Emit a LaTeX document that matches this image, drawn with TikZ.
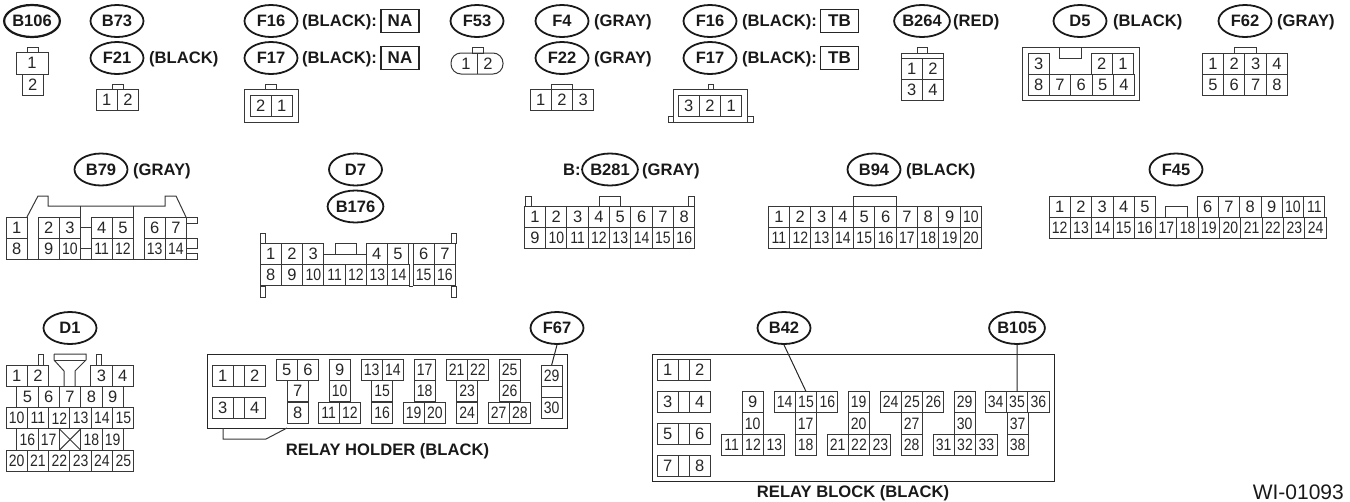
\documentclass[tikz,border=0pt]{standalone}
\usepackage{fontspec}
\setmainfont{Liberation Sans}
\newfontfamily\pinnarrow[FakeStretch=0.85]{Liberation Sans}
\usetikzlibrary{shapes.geometric}
\tikzset{
    pinline/.style={line width=1pt,black!78},
    pinbox/.style={draw=black!78,line width=1pt,minimum width=21.33pt,minimum height=21.33pt,inner sep=0pt,outer sep=0pt,text=black!85,font=\fontsize{16.5}{16.5}\selectfont},
    pinlabel/.style={pinbox,draw=none},
    conn/.style={ellipse,draw=black!90,line width=1.8pt,minimum width=53pt,minimum height=32pt,inner sep=0pt,text=black!90,font=\bfseries\fontsize{16.5}{16.5}\selectfont},
    colour/.style={anchor=base west,inner sep=0pt,text=black!90,font=\bfseries\fontsize{16.6}{16.6}\selectfont},
    harness/.style={draw=black!85,line width=1.8pt,minimum width=38pt,minimum height=23pt,inner sep=0pt,text=black!90,font=\bfseries\fontsize{17}{17}\selectfont},
    caption/.style={inner sep=0pt,text=black!90,font=\bfseries\fontsize{16.6}{16.6}\selectfont},
    leader/.style={line width=1pt,black!85},
}
% one row of touching pins, (#2,#3) is its top left corner
\newcommand{\pinrow}[4]{
    \foreach \lab [count=\k from 0] in {#4} {
        \node[pinbox,anchor=north west] (#1\lab) at ({#2+\k*21.33},#3) {\ifnum\lab>9 \pinnarrow\fi\lab};
    }
}
% grey links across the middle of a relay
\newcommand{\relaylink}[2]{
    \draw[pinline] (#1.north east) -- (#2.north west);
    \draw[pinline] (#1.south east) -- (#2.south west);
}
\begin{document}
\begin{tikzpicture}[x=1pt,y=-1pt]
    \useasboundingbox (0,0) rectangle (1350,501);

    % top row
    \node[conn,line width=2.2pt] (b106) at (32,21) {B106};
    \draw[pinline] (27,47) rectangle (38,52);
    \node[pinbox,anchor=north west,minimum width=32pt,minimum height=22pt] (b106a) at (16,52) {1};
    \node[pinbox,anchor=north west] (b106b) at (22,74) {2};

    \node[conn] (b73) at (117,21) {B73};
    \node[conn] (f21) at (117,58) {F21};
    \node[colour] (f21c) at (149,63.5) {(BLACK)};
    \draw[pinline] (112,84) rectangle (123,89);
    \pinrow{f21p}{96}{89}{1,2}

    \node[conn] (f16n) at (271,21) {F16};
    \node[conn] (f17n) at (271,58) {F17};
    \node[colour] (f16nc) at (302,26.5) {(BLACK):};
    \node[colour] (f17nc) at (302,63.5) {(BLACK):};
    \node[harness] (na1) at (400,21) {NA};
    \node[harness] (na2) at (400,58) {NA};
    \draw[pinline] (244,89) rectangle (298,122);
    \draw[pinline] (265,84) rectangle (276,89);
    \pinrow{f17p}{250}{95}{2}
    \pinrow{f17q}{271}{95}{1}

    \node[conn] (f53) at (477,21) {F53};
    \draw[pinline] (472,47) rectangle (483,53);
    \draw[pinline,rounded corners=10pt] (451,53) rectangle (503,74);
    \draw[pinline] (477,53) -- (477,74);
    \node[pinlabel] (f53a) at (466,63.5) {1};
    \node[pinlabel] (f53b) at (488,63.5) {2};

    \node[conn] (f4) at (562,21) {F4};
    \node[conn] (f22) at (562,58) {F22};
    \node[colour] (f4c) at (594,26.5) {(GRAY)};
    \node[colour] (f22c) at (594,63.5) {(GRAY)};
    \draw[pinline] (551,84) rectangle (572,89);
    \pinrow{f22p}{530}{89}{1,2,3}

    \node[conn] (f16t) at (710,21) {F16};
    \node[conn] (f17t) at (710,58) {F17};
    \node[colour] (f16tc) at (742,26.5) {(BLACK):};
    \node[colour] (f17tc) at (742,63.5) {(BLACK):};
    \node[harness] (tb1) at (839.5,21) {TB};
    \node[harness] (tb2) at (839.5,58) {TB};
    \draw[pinline] (673,89) rectangle (747,122);
    \draw[pinline] (708,84) rectangle (713,89);
    \draw[pinline] (668,116) rectangle (673,122);
    \draw[pinline] (747,116) rectangle (753,122);
    \pinrow{f17r}{678}{95}{3,2,1}

    \node[conn] (b264) at (922,21) {B264};
    \node[colour] (b264c) at (953,26.5) {(RED)};
    \draw[pinline] (917,47) rectangle (927,53);
    \draw[pinline] (901,53) rectangle (943,58);
    \pinrow{b264p}{901}{58}{1,2}
    \pinrow{b264p}{901}{79}{3,4}

    \node[conn] (d5) at (1080,21) {D5};
    \node[colour] (d5c) at (1113,26.5) {(BLACK)};
    \draw[pinline] (1022,47) rectangle (1139,100);
    \draw[pinline] (1059,47) rectangle (1081,58);
    \pinrow{d5p}{1028}{53}{3}
    \pinrow{d5p}{1091}{53}{2,1}
    \pinrow{d5p}{1028}{74}{8,7,6,5,4}

    \node[conn] (f62) at (1245,21) {F62};
    \node[colour] (f62c) at (1277,26.5) {(GRAY)};
    \draw[pinline] (1234,47) rectangle (1256,53);
    \pinrow{f62p}{1202.3}{53}{1,2,3,4}
    \pinrow{f62p}{1202.3}{74}{5,6,7,8}

    % middle row
    \node[conn] (b79) at (101,169.5) {B79};
    \node[colour] (b79c) at (133,175.5) {(GRAY)};
    \draw[pinline] (27,217) -- (38,196) -- (48,196) -- (48,206) -- (165,206) -- (165,196) -- (176,196) -- (186,217);
    \draw[pinline] (80,206) -- (80,217);
    \draw[pinline] (133,206) -- (133,217);
    \draw[pinline] (80,227) -- (91,227);
    \draw[pinline] (80,248) -- (91,248);
    \draw[pinline] (27,259) -- (186,259);
    \draw[pinline] (186,217) -- (197,217) -- (197,223) -- (186,223);
    \draw[pinline] (186,238) -- (197,238) -- (197,248) -- (186,248);
    \draw[pinline] (186,253) -- (197,253) -- (197,259) -- (186,259);
    \pinrow{b79p}{6}{217}{1}
    \pinrow{b79p}{38}{217}{2,3}
    \pinrow{b79p}{91}{217}{4,5}
    \pinrow{b79p}{144}{217}{6,7}
    \pinrow{b79p}{6}{238}{8}
    \pinrow{b79p}{38}{238}{9,10}
    \pinrow{b79p}{91}{238}{11,12}
    \pinrow{b79p}{144}{238}{13,14}

    \node[conn] (d7) at (355.5,169.5) {D7};
    \node[conn] (b176) at (355.5,206.5) {B176};
    \draw[pinline] (324,254) -- (366,254);
    \draw[pinline] (335,243) rectangle (356,254);
    \foreach \tabx in {260,451} {
        \draw[pinline] (\tabx,233) rectangle (\tabx+5,243);
        \draw[pinline] (\tabx,286) rectangle (\tabx+5,297);
    }
    \draw[pinline] (409,243) -- (413,243);
    \draw[pinline] (409,286) -- (413,286);
    \pinrow{b176p}{260}{243}{1,2,3}
    \pinrow{b176p}{366}{243}{4,5}
    \pinrow{b176p}{413}{243}{6,7}
    \pinrow{b176p}{260}{264.5}{8,9,10,11,12,13,14}
    \pinrow{b176p}{413}{264.5}{15,16}

    \node[caption] (b281b) at (572,169.5) {B:};
    \node[conn] (b281) at (610,169.5) {B281};
    \node[colour] (b281c) at (642,175.5) {(GRAY)};
    \draw[pinline] (599,196) rectangle (620,206);
    \draw[pinline] (525,196) rectangle (531,206);
    \draw[pinline] (688,196) rectangle (694,206);
    \pinrow{b281p}{524.3}{206}{1,2,3,4,5,6,7,8}
    \pinrow{b281p}{524.3}{227.3}{9,10,11,12,13,14,15,16}

    \node[conn] (b94) at (874,169.5) {B94};
    \node[colour] (b94c) at (906,175.5) {(BLACK)};
    \draw[pinline] (853,196) rectangle (896,206);
    \pinrow{b94p}{768.3}{206}{1,2,3,4,5,6,7,8,9,10}
    \pinrow{b94p}{768.3}{227.3}{11,12,13,14,15,16,17,18,19,20}

    \node[conn] (f45) at (1176,169.5) {F45};
    \draw[pinline] (1165,206) rectangle (1187,217);
    \pinrow{f45p}{1049}{196}{1,2,3,4,5}
    \pinrow{f45p}{1197}{196}{6,7,8,9,10,11}
    \pinrow{f45p}{1049}{217.3}{12,13,14,15,16,17,18,19,20,21,22,23,24}

    % bottom row, D1
    \node[conn] (d1) at (70,328) {D1};
    \draw[pinline] (38,354) rectangle (43,365);
    \draw[pinline] (96,354) rectangle (101,365);
    \draw[pinline] (54,354) -- (86,354) -- (86,360) -- (75,371) -- (75,386);
    \draw[pinline] (64,386) -- (64,371) -- (54,360) -- (54,354);
    \draw[pinline] (54,360) -- (86,360);
    \pinrow{d1p}{6}{365}{1,2}
    \pinrow{d1p}{90.7}{365}{3,4}
    \pinrow{d1p}{16.7}{386.3}{5,6,7,8,9}
    \pinrow{d1p}{6}{407.6}{10,11,12,13,14,15}
    \pinrow{d1p}{16.7}{428.9}{16,17}
    \node[pinbox,anchor=north west] (d1x) at (59.4,428.9) {};
    \draw[pinline] (d1x.north west) -- (d1x.south east);
    \draw[pinline] (d1x.north east) -- (d1x.south west);
    \pinrow{d1p}{80.7}{428.9}{18,19}
    \pinrow{d1p}{6}{450.2}{20,21,22,23,24,25}

    % relay holder
    \draw[pinline,black!85] (207,354) rectangle (567,428);
    \draw[pinline] (223,428) -- (223,439) -- (266,439) -- (287,428);
    \pinrow{rh}{212}{365}{1}
    \pinrow{rh}{244}{365}{2}
    \pinrow{rh}{212}{397}{3}
    \pinrow{rh}{244}{397}{4}
    \relaylink{rh1}{rh2}
    \relaylink{rh3}{rh4}
    \pinrow{rh}{276}{359}{5,6}
    \pinrow{rh}{287}{380.5}{7}
    \pinrow{rh}{287}{402}{8}
    \pinrow{rh}{329}{359}{9}
    \pinrow{rh}{329}{380.5}{10}
    \pinrow{rh}{318}{402}{11,12}
    \pinrow{rh}{361}{359}{13,14}
    \pinrow{rh}{371.5}{380.5}{15}
    \pinrow{rh}{371.5}{402}{16}
    \pinrow{rh}{414}{359}{17}
    \pinrow{rh}{414}{380.5}{18}
    \pinrow{rh}{403}{402}{19,20}
    \pinrow{rh}{446}{359}{21,22}
    \pinrow{rh}{456.5}{380.5}{23}
    \pinrow{rh}{456.5}{402}{24}
    \pinrow{rh}{499}{359}{25}
    \pinrow{rh}{499}{380.5}{26}
    \pinrow{rh}{488}{402}{27,28}
    \pinrow{rh}{541}{365}{29}
    \pinrow{rh}{541}{397}{30}
    \draw[pinline] (rh29.south west) -- (rh30.north west);
    \draw[pinline] (rh29.south east) -- (rh30.north east);
    \node[conn] (f67) at (557,328) {F67};
    \draw[leader] (f67.south) -- (rh29.north);
    \node[caption] (rhcap) at (387.5,451.2) {RELAY HOLDER (BLACK)};

    % relay block
    \draw[pinline,black!85] (652,354) rectangle (1054,481);
    \foreach \k/\a/\b/\rowy in {1/1/2/359,2/3/4/391.5,3/5/6/423,4/7/8/455} {
        \pinrow{rb}{657}{\rowy}{\a}
        \pinrow{rb}{689}{\rowy}{\b}
        \relaylink{rb\a}{rb\b}
    }
    \pinrow{rb}{742}{391.5}{9}
    \pinrow{rb}{742}{412.8}{10}
    \pinrow{rb}{721}{434}{11,12,13}
    \pinrow{rb}{774}{391.5}{14,15,16}
    \pinrow{rb}{795}{412.8}{17}
    \pinrow{rb}{795}{434}{18}
    \pinrow{rb}{848}{391.5}{19}
    \pinrow{rb}{848}{412.8}{20}
    \pinrow{rb}{827}{434}{21,22,23}
    \pinrow{rb}{880}{391.5}{24,25,26}
    \pinrow{rb}{901}{412.8}{27}
    \pinrow{rb}{901}{434}{28}
    \pinrow{rb}{954}{391.5}{29}
    \pinrow{rb}{954}{412.8}{30}
    \pinrow{rb}{933}{434}{31,32,33}
    \pinrow{rb}{985}{391.5}{34,35,36}
    \pinrow{rb}{1007}{412.8}{37}
    \pinrow{rb}{1007}{434}{38}
    \node[conn] (b42) at (784,328) {B42};
    \node[conn] (b105) at (1017,328) {B105};
    \draw[leader] (b42.south) -- (rb15.north);
    \draw[leader] (b105.south) -- (rb35.north);
    \node[caption] (rbcap) at (853,493.7) {RELAY BLOCK (BLACK)};

    \node[inner sep=0pt,anchor=base east,text=black!90,font=\fontsize{21}{21}\selectfont] (wi) at (1344,499) {WI-01093};
\end{tikzpicture}
\end{document}
